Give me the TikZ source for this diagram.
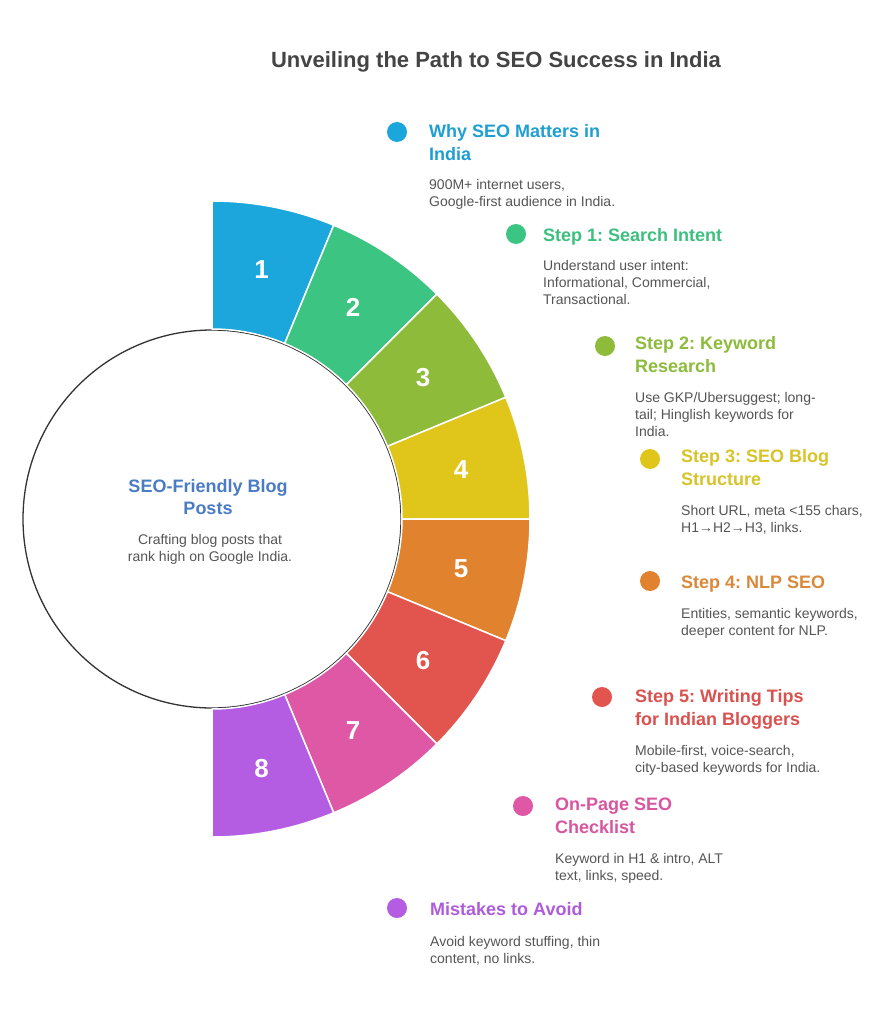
\documentclass[tikz,border=0pt]{standalone}
\usepackage{fontspec}
\setmainfont{Liberation Sans}
\frenchspacing
\definecolor{c1}{HTML}{1BA7DB}
\definecolor{c2}{HTML}{3CC482}
\definecolor{c3}{HTML}{8EBB3A}
\definecolor{c4}{HTML}{E0C61A}
\definecolor{c5}{HTML}{E0822E}
\definecolor{c6}{HTML}{E2554F}
\definecolor{c7}{HTML}{DE58A6}
\definecolor{c8}{HTML}{B45CE2}
\definecolor{h1}{HTML}{1E9FD2}
\definecolor{h2}{HTML}{3CBF7F}
\definecolor{h3}{HTML}{8DBB3C}
\definecolor{h4}{HTML}{D6C428}
\definecolor{h5}{HTML}{DA883A}
\definecolor{h6}{HTML}{DA524F}
\definecolor{h7}{HTML}{D8559F}
\definecolor{h8}{HTML}{AE5CDC}
\definecolor{titlegray}{HTML}{444444}
\definecolor{bodygray}{HTML}{555555}
\definecolor{hubblue}{HTML}{4B7BC4}
\definecolor{ringline}{HTML}{333333}
\tikzset{
  num/.style={text=white, font=\bfseries\fontsize{26}{30}\selectfont, inner sep=0pt},
  dotmark/.style={circle, inner sep=0pt, minimum size=20pt},
  head/.style={anchor=base west, align=left, inner sep=0pt, font=\bfseries\fontsize{18}{23}\selectfont},
  desc/.style={anchor=base west, align=left, inner sep=0pt, text=bodygray, font=\fontsize{14}{17}\selectfont},
}
\begin{document}
\begin{tikzpicture}[x=1pt,y=-1pt]
\path[use as bounding box, fill=white] (0,0) rectangle (888,1024);
\node[anchor=base, inner sep=0pt, text=titlegray, font=\bfseries\fontsize{22}{26}\selectfont] (title) at (496,68) {Unveiling the Path to SEO Success in India};
% hub circle
\node[circle, draw=ringline, line width=1.3pt, fill=white, minimum size=378pt, inner sep=0pt] (hub) at (212,519) {};
% ring segments
\begin{scope}[shift={(212,519)}]
\foreach \k/\c in {1/c1,2/c2,3/c3,4/c4,5/c5,6/c6,7/c7,8/c8} {
  \pgfmathsetmacro\s{-90+22.5*(\k-1)}
  \pgfmathsetmacro\e{-90+22.5*\k}
  \pgfmathsetmacro\m{(\s+\e)/2}
  \fill[\c, draw=white, line width=1.5pt] (\s:318) arc[start angle=\s, end angle=\e, radius=318] -- (\e:190) arc[start angle=\e, end angle=\s, radius=190] -- cycle;
  \node[num] (n\k) at (\m:254) {\k};
}
\end{scope}
% hub text (base anchor = baseline of last line)
\node[anchor=base, align=center, inner sep=0pt, text=hubblue, font=\bfseries\fontsize{18}{22}\selectfont] (hubhead) at (208,514) {SEO-Friendly Blog\\Posts};
\node[anchor=base, align=center, inner sep=0pt, text=bodygray, font=\fontsize{14}{17}\selectfont] (hubdesc) at (210,561) {Crafting blog posts that\\rank high on Google India.};
% items
\node[dotmark, fill=c1] (d1) at (397,132) {};
\node[head, text=h1] (t1) at (429,161) {Why SEO Matters in\\India};
\node[desc] (p1) at (429,207) {900M+ internet users,\\Google-first audience in India.};
\node[dotmark, fill=c2] (d2) at (516,234) {};
\node[head, text=h2] (t2) at (543,241) {Step 1: Search Intent};
\node[desc] (p2) at (543,304) {Understand user intent:\\Informational, Commercial,\\Transactional.};
\node[dotmark, fill=c3] (d3) at (605,346) {};
\node[head, text=h3] (t3) at (635,372) {Step 2: Keyword\\Research};
\node[desc] (p3) at (635,436) {Use GKP/Ubersuggest; long-\\tail; Hinglish keywords for\\India.};
\node[dotmark, fill=c4] (d4) at (650,459) {};
\node[head, text=h4] (t4) at (681,485) {Step 3: SEO Blog\\Structure};
\node[desc] (p4) at (681,532) {Short URL, meta <155 chars,\\H1→H2→H3, links.};
\node[dotmark, fill=c5] (d5) at (650,581) {};
\node[head, text=h5] (t5) at (681,588) {Step 4: NLP SEO};
\node[desc] (p5) at (681,635) {Entities, semantic keywords,\\deeper content for NLP.};
\node[dotmark, fill=c6] (d6) at (602,697) {};
\node[head, text=h6] (t6) at (635,725) {Step 5: Writing Tips\\for Indian Bloggers};
\node[desc] (p6) at (635,772) {Mobile-first, voice-search,\\city-based keywords for India.};
\node[dotmark, fill=c7] (d7) at (523,806) {};
\node[head, text=h7] (t7) at (555,833) {On-Page SEO\\Checklist};
\node[desc] (p7) at (555,880) {Keyword in H1 \& intro, ALT\\text, links, speed.};
\node[dotmark, fill=c8] (d8) at (397,908) {};
\node[head, text=h8] (t8) at (430,915) {Mistakes to Avoid};
\node[desc] (p8) at (430,963) {Avoid keyword stuffing, thin\\content, no links.};
\end{tikzpicture}
\end{document}
